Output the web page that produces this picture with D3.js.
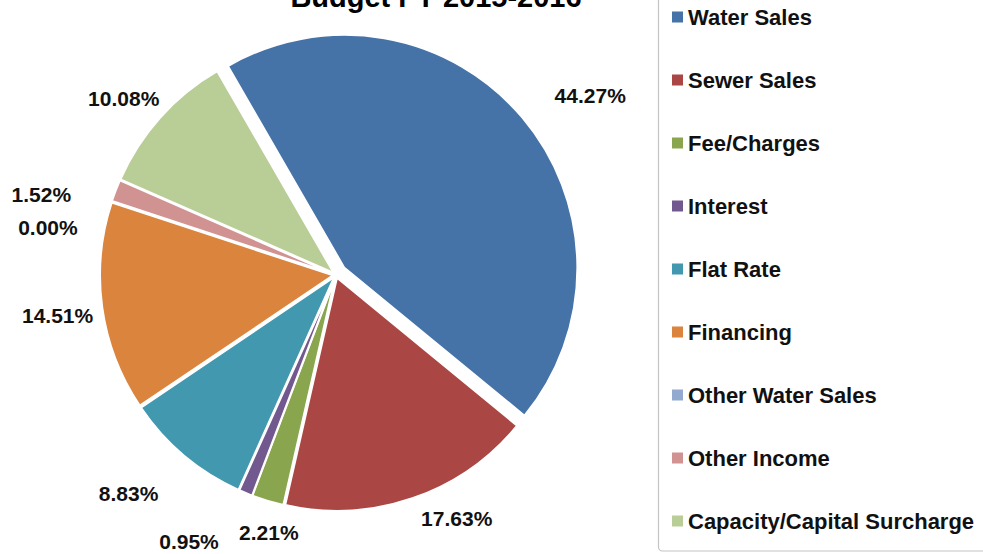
<!DOCTYPE html>
<html>
<head>
<meta charset="utf-8">
<script src="https://cdn.jsdelivr.net/npm/d3@7"></script>
<style>
    body { margin: 0; background: #fff; }
    svg { display: block; font-family: "Liberation Sans", Arial, sans-serif; }
</style>
</head>
<body>
<div id="chart"></div>
<script>
// chart data
const title = 'Budget FY 2015-2016';
const categories = ['Water Sales', 'Sewer Sales', 'Fee/Charges', 'Interest', 'Flat Rate',
    'Financing', 'Other Water Sales', 'Other Income', 'Capacity/Capital Surcharge'];
const shares = [44.27, 17.63, 2.21, 0.95, 8.83, 14.51, 0.00, 1.52, 10.08];
const colors = ['#4572A7', '#AA4643', '#89A54E', '#71588F', '#4198AF',
    '#DB843D', '#93A9CF', '#D19392', '#B9CD96'];

// layout tweaks (explode distance and label nudge per slice)
const explode = [11, 3, 3, 3, 3, 3, 3, 3, 3];
const labelNudge = [[43, 0], [31, -19], [13, -8], [-41, 11], [-29, 7], [-4, 2], [-25, 39], [-36, 19], [-6, 8]];

const width = 983, height = 554;
const cx = 336, cy = 275, r = 233;

const data = categories.map((name, i) => ({name, value: shares[i], color: colors[i], i}));

const svg = d3.select('#chart').append('svg')
    .attr('width', width)
    .attr('height', height);

// title (partly cut off at the top, like the source)
svg.append('text')
    .attr('x', 436)
    .attr('y', 7)
    .attr('text-anchor', 'middle')
    .style('font-size', '29px')
    .style('font-weight', 'bold')
    .text(title);

// pie
const pie = d3.pie()
    .sort(null)
    .value(d => d.value)
    .startAngle(-30 * Math.PI / 180)
    .endAngle(330 * Math.PI / 180);

const arc = d3.arc().innerRadius(0).outerRadius(r);
const labelArc = d3.arc().innerRadius(r + 44).outerRadius(r + 44);

const arcs = pie(data);

const plot = svg.append('g')
    .attr('transform', `translate(${cx},${cy})`);

plot.selectAll('.slice')
    .data(arcs.filter(d => d.value > 0))
    .enter()
    .append('path')
    .attr('class', 'slice')
    .attr('transform', d => {
        const mid = (d.startAngle + d.endAngle) / 2;
        const e = explode[d.data.i];
        return `translate(${Math.sin(mid) * e},${-Math.cos(mid) * e})`;
    })
    .attr('d', arc)
    .style('fill', d => d.data.color)
    .style('stroke', '#fff')
    .style('stroke-width', 2)
    .style('stroke-linejoin', 'round');

// percentage labels
plot.selectAll('.pct')
    .data(arcs)
    .enter()
    .append('text')
    .attr('class', 'pct')
    .attr('x', d => labelArc.centroid(d)[0] + labelNudge[d.data.i][0])
    .attr('y', d => labelArc.centroid(d)[1] + labelNudge[d.data.i][1])
    .attr('dy', '0.36em')
    .attr('text-anchor', 'middle')
    .style('font-size', '21px')
    .style('font-weight', 'bold')
    .style('fill', '#111')
    .text(d => d3.format('.2f')(d.value) + '%');

// legend
const legend = svg.append('g');
legend.append('rect')
    .attr('x', 658.5)
    .attr('y', -10)
    .attr('width', 360)
    .attr('height', 561)
    .attr('rx', 4)
    .style('fill', '#fff')
    .style('stroke', '#c4c4c4')
    .style('stroke-width', 1.2);

const legendY = d3.scalePoint()
    .domain(categories)
    .range([17, 521]);

const item = legend.selectAll('.item')
    .data(data)
    .enter()
    .append('g')
    .attr('class', 'item')
    .attr('transform', d => `translate(672,${legendY(d.name)})`);

item.append('rect')
    .attr('x', 0)
    .attr('y', -5.5)
    .attr('width', 11)
    .attr('height', 11)
    .style('fill', d => d.color);

item.append('text')
    .attr('x', 16)
    .attr('dy', '0.36em')
    .style('font-size', '22px')
    .style('font-weight', 'bold')
    .style('fill', '#111')
    .text(d => d.name);
</script>
</body>
</html>
